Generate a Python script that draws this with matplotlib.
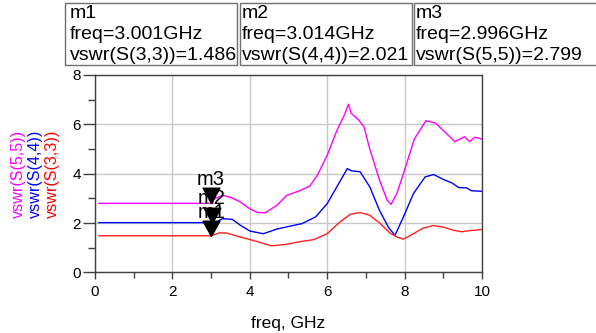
import matplotlib
matplotlib.use("Agg")
from matplotlib import pyplot as plt
from matplotlib.path import Path
from matplotlib.patches import Rectangle
from matplotlib.ticker import MultipleLocator

plt.rcParams['font.family'] = ['Liberation Sans', 'DejaVu Sans']

# vswr(S(5,5)) - magenta
freq_s55 = [0.1, 3.0, 3.1, 3.3, 3.5, 3.75, 4.0, 4.2, 4.4, 4.7, 4.95, 5.3, 5.55, 5.75, 6.0, 6.25,
            6.45, 6.55, 6.62, 6.8, 6.95, 7.1, 7.35, 7.55, 7.65, 7.8, 8.0, 8.25, 8.55, 8.8,
            9.1, 9.3, 9.55, 9.68, 9.82, 10.0]
vswr_s55 = [2.80, 2.80, 3.0, 3.12, 3.05, 2.86, 2.58, 2.43, 2.42, 2.72, 3.12, 3.32, 3.5, 3.95, 4.75, 5.75,
            6.4, 6.82, 6.45, 6.2, 5.9, 5.0, 3.75, 2.93, 2.76, 3.2, 4.15, 5.4, 6.15, 6.05,
            5.6, 5.3, 5.5, 5.3, 5.48, 5.4]

# vswr(S(4,4)) - blue
freq_s44 = [0.1, 3.1, 3.3, 3.55, 3.75, 4.0, 4.35, 4.7, 5.05, 5.35, 5.7, 6.0, 6.25, 6.52, 6.62, 6.85,
            7.1, 7.35, 7.58, 7.75, 7.97, 8.23, 8.53, 8.75, 9.0, 9.22, 9.4, 9.6, 9.73, 10.0]
vswr_s44 = [2.02, 2.02, 2.18, 2.15, 1.92, 1.68, 1.57, 1.76, 1.88, 1.98, 2.25, 2.79, 3.47, 4.21, 4.12, 4.08,
            3.47, 2.52, 1.84, 1.50, 2.25, 3.2, 3.87, 3.97, 3.77, 3.63, 3.44, 3.43, 3.31, 3.29]

# vswr(S(3,3)) - red
freq_s33 = [0.1, 3.0, 3.2, 3.4, 3.75, 4.2, 4.55, 4.9, 5.3, 5.65, 6.0, 6.33, 6.6, 6.85, 7.1, 7.36,
            7.62, 7.8, 7.97, 8.23, 8.48, 8.74, 9.0, 9.26, 9.48, 9.7, 10.0]
vswr_s33 = [1.486, 1.486, 1.6, 1.6, 1.44, 1.25, 1.08, 1.13, 1.25, 1.33, 1.57, 2.05, 2.36, 2.43, 2.32, 2.0,
            1.6, 1.44, 1.35, 1.57, 1.8, 1.9, 1.84, 1.71, 1.65, 1.70, 1.74]

# markers
marker_names = ["m1", "m2", "m3"]
marker_freq = [3.001, 3.014, 2.996]
marker_vswr = [1.486, 2.021, 2.799]
marker_param = ["S(3,3)", "S(4,4)", "S(5,5)"]

W, H = 596, 333
fig = plt.figure(figsize=(W / 100, H / 100), dpi=100)
ax = fig.add_axes([0.1594, 0.1817, 0.6493, 0.5931])

ax.plot(freq_s55, vswr_s55, color='#ff00ff', linewidth=1)
ax.plot(freq_s44, vswr_s44, color='#0000ff', linewidth=1)
ax.plot(freq_s33, vswr_s33, color='#ff2020', linewidth=1)

# downward triangle with its tip on the data point
tri = Path([(-0.55, 1.0), (0.55, 1.0), (0.0, 0.0), (-0.55, 1.0)],
           [Path.MOVETO, Path.LINETO, Path.LINETO, Path.CLOSEPOLY])
ax.plot(marker_freq, marker_vswr, linestyle='none', marker=tri, markersize=22,
        color='black', zorder=5)
for name, f, v in zip(marker_names, marker_freq, marker_vswr):
    ax.annotate(name, (f, v), xytext=(0, 17), textcoords='offset points',
                ha='center', va='center', fontsize=14.5, zorder=6)

ax.set_xlim(0, 10)
ax.set_ylim(0, 8)
ax.xaxis.set_major_locator(MultipleLocator(2))
ax.xaxis.set_minor_locator(MultipleLocator(1))
ax.yaxis.set_major_locator(MultipleLocator(2))
ax.yaxis.set_minor_locator(MultipleLocator(1))
ax.grid(True, which='major', color='#c8c8c8', linewidth=1)
ax.set_axisbelow(True)
ax.tick_params(axis='x', which='major', direction='out', length=5, width=1, pad=4,
               labelsize=11, color='#404040')
ax.tick_params(axis='x', which='minor', direction='out', length=4, width=1, color='#404040')
ax.tick_params(axis='y', which='major', direction='out', length=9, width=1, pad=1,
               labelsize=11, color='#404040')
ax.tick_params(axis='y', which='minor', direction='out', length=5, width=1, color='#404040')
for sp in ax.spines.values():
    sp.set_color('#404040')
    sp.set_linewidth(1)

ax.set_xlabel("freq, GHz", fontsize=12.5, labelpad=12)

# stacked coloured y labels
fig.text(18 / W, 1 - 174 / H, "vswr(S(5,5))", color='#ff00ff', rotation=90,
         ha='center', va='center', fontsize=11.6)
fig.text(35 / W, 1 - 174 / H, "vswr(S(4,4))", color='#0000ff', rotation=90,
         ha='center', va='center', fontsize=11.6)
fig.text(52 / W, 1 - 174 / H, "vswr(S(3,3))", color='#ff0000', rotation=90,
         ha='center', va='center', fontsize=11.6)

# marker readout boxes (pixel layout)
box_edges = [(65, 237), (240, 412), (414, 640)]
text_left = [70, 242, 416]
baselines = [18, 39, 60]
for (x0, x1), tx, name, f, v, p in zip(box_edges, text_left, marker_names,
                                        marker_freq, marker_vswr, marker_param):
    fig.patches.append(Rectangle((x0 / W, 1 - 65 / H), (x1 - x0) / W, 62 / H,
                                 transform=fig.transFigure, facecolor='white',
                                 edgecolor='#707070', linewidth=1))
    lines = [name, f"freq={f:.3f}GHz", f"vswr({p})={v:.3f}"]
    for line, yb in zip(lines, baselines):
        fig.text(tx / W, 1 - yb / H, line, ha='left', va='baseline', fontsize=14.0)

fig.savefig("out.png", dpi=100)
